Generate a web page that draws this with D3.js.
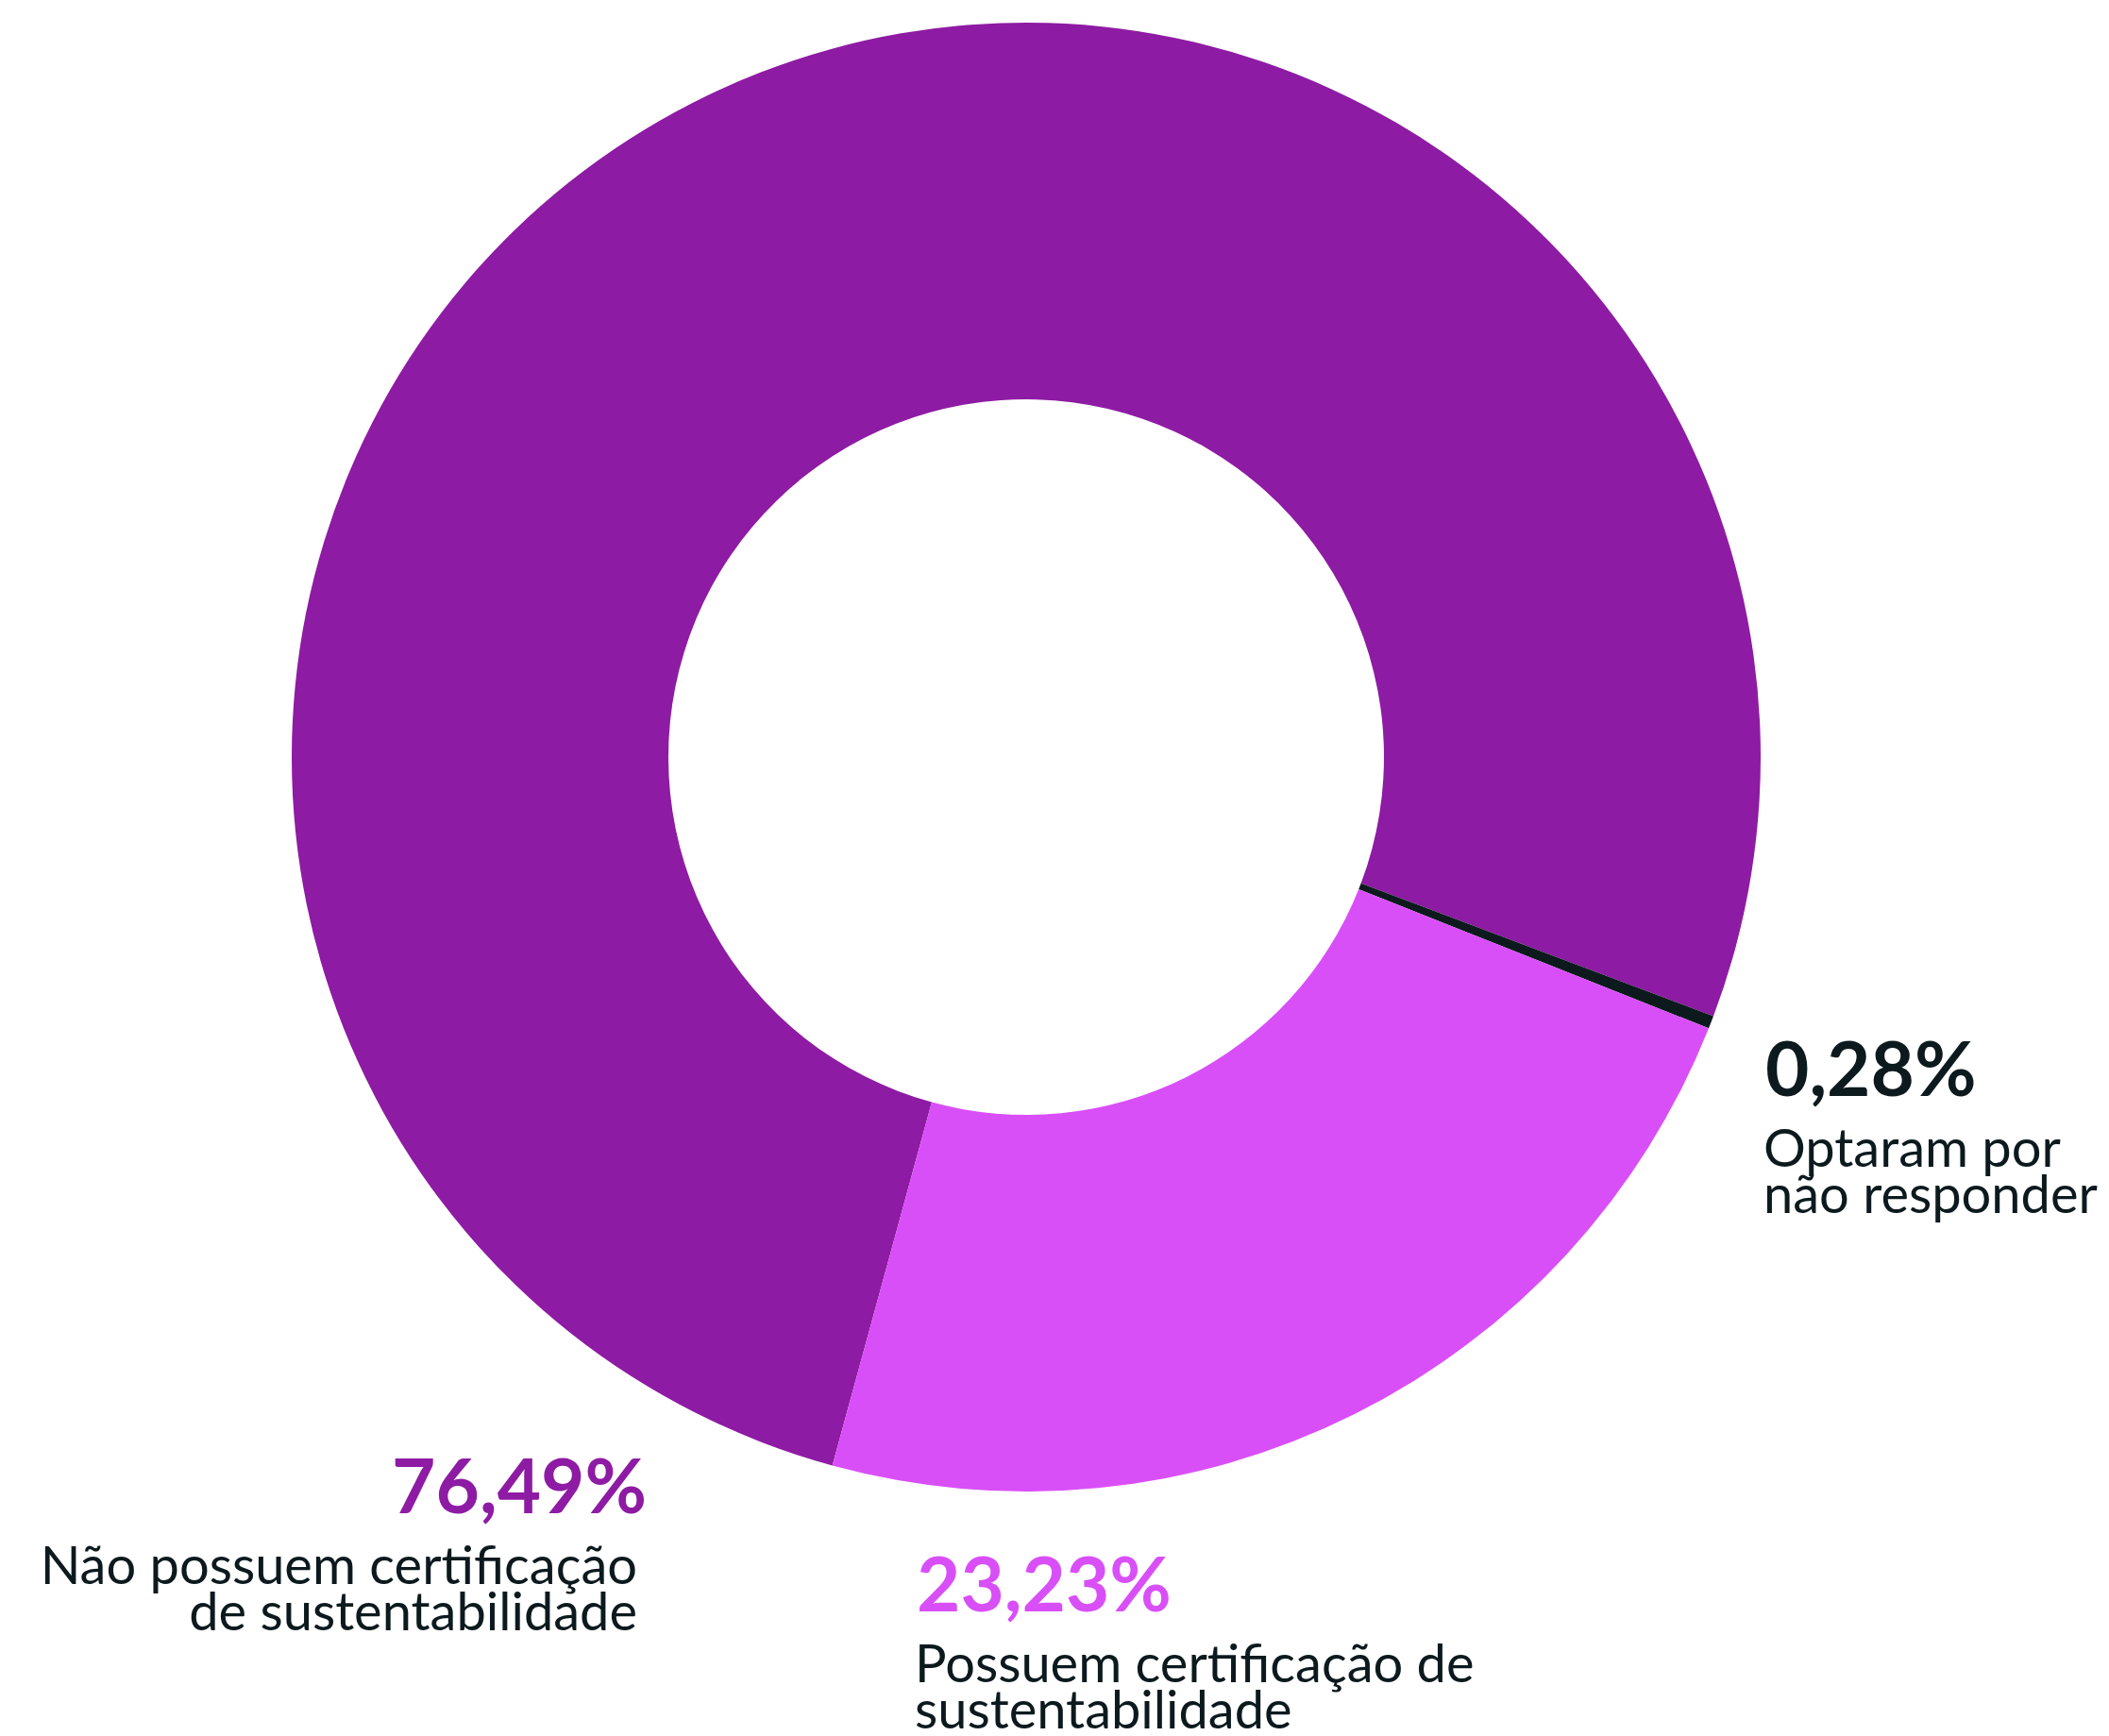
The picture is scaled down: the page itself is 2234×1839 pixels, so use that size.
<!DOCTYPE html>
<html>
<head>
<meta charset="utf-8">
<script src="https://cdn.jsdelivr.net/npm/d3@7"></script>
<style>
  body { margin: 0; background: #fff; }
  text { font-family: Lato, "Noto Sans", sans-serif; }
</style>
</head>
<body>
<div id="chart"></div>
<script>
// slices, in drawing order (clockwise)
var categories = ["Não possuem certificação de sustentabilidade", "Optaram por não responder", "Possuem certificação de sustentabilidade"];
var values = [76.49, 0.28, 23.23];
var valueLabels = ["76,49%", "0,28%", "23,23%"];
var labelLines = [
  ["Não possuem certificação", "de sustentabilidade"],
  ["Optaram por", "não responder"],
  ["Possuem certificação de", "sustentabilidade"]
];
var colors = ["#8E1BA3", "#0C1A1E", "#D94FF7"];

var width = 2234, height = 1839;
var cx = 1087, cy = 802;
var outerR = 778, innerR = 379;
var textColor = "#0C1A1E";

var svg = d3.select("#chart").append("svg")
  .attr("width", width)
  .attr("height", height);

var start = 195.3 * Math.PI / 180;
var pie = d3.pie().sort(null).startAngle(start).endAngle(start + 2 * Math.PI);
var arc = d3.arc().innerRadius(innerR).outerRadius(outerR);

var g = svg.append("g").attr("transform", "translate(" + cx + "," + cy + ")");
g.selectAll("path")
  .data(pie(values))
  .enter()
  .append("path")
  .attr("d", arc)
  .attr("fill", function(d, i) { return colors[i]; });

// label placement: [x, baseline of percent, anchor]
var labelPos = [
  [685, 1603, "end"],
  [1870, 1161, "start"],
  [971, 1707, "start"]
];

var labels = svg.append("g");
labelPos.forEach(function(p, i) {
  var lg = labels.append("g");
  lg.append("text")
    .attr("x", p[0])
    .attr("y", p[1])
    .attr("text-anchor", p[2])
    .attr("font-size", 80)
    .attr("font-weight", 700)
    .attr("fill", i == 1 ? textColor : colors[i])
    .text(valueLabels[i]);
  labelLines[i].forEach(function(line, j) {
    lg.append("text")
      .attr("x", p[2] == "end" ? p[0] - 10 : p[0] - 2)
      .attr("y", p[1] + 75 + j * 49)
      .attr("text-anchor", p[2])
      .attr("font-size", 56)
      .attr("font-weight", 400)
      .attr("fill", textColor)
      .text(line);
  });
});
</script>
</body>
</html>
